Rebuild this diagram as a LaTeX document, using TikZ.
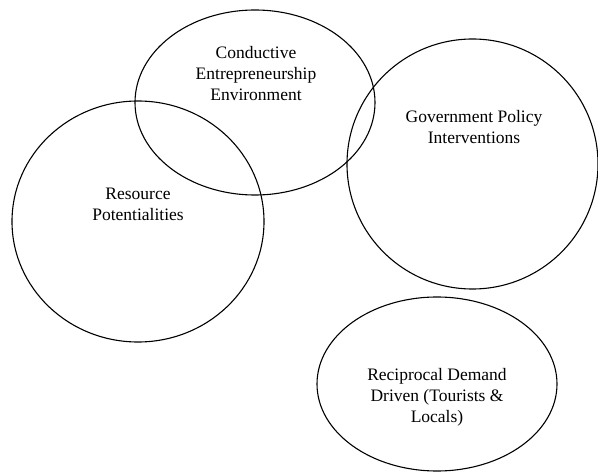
\documentclass[tikz,border=0pt]{standalone}
\usepackage{fontspec}
\setmainfont{Liberation Serif}
\usetikzlibrary{shapes.geometric}
\begin{document}
\begin{tikzpicture}[x=1pt,y=-1pt,
  ring/.style={draw, ellipse, line width=1.1pt, inner sep=0pt},
  lbl/.style={align=center, font=\fontsize{17.5}{21}\selectfont, inner sep=0pt}]
\useasboundingbox (0,0) rectangle (598,473);
\node[ring, minimum width=240pt, minimum height=185pt] (ce) at (255,102.5) {};
\node[ring, minimum width=252pt, minimum height=241pt] (rp) at (138,221.5) {};
\node[ring, minimum width=251pt, minimum height=250pt] (gp) at (472.5,164) {};
\node[ring, minimum width=240pt, minimum height=174pt] (rd) at (437,384) {};
\node[lbl] (tce) at (256,74) {Conductive\\Entrepreneurship\\Environment};
\node[lbl] (trp) at (138,204) {Resource\\Potentialities};
\node[lbl] (tgp) at (474,127) {Government Policy\\Interventions};
\node[lbl] (trd) at (437,397) {Reciprocal Demand\\Driven (Tourists \&\\Locals)};
\end{tikzpicture}
\end{document}
